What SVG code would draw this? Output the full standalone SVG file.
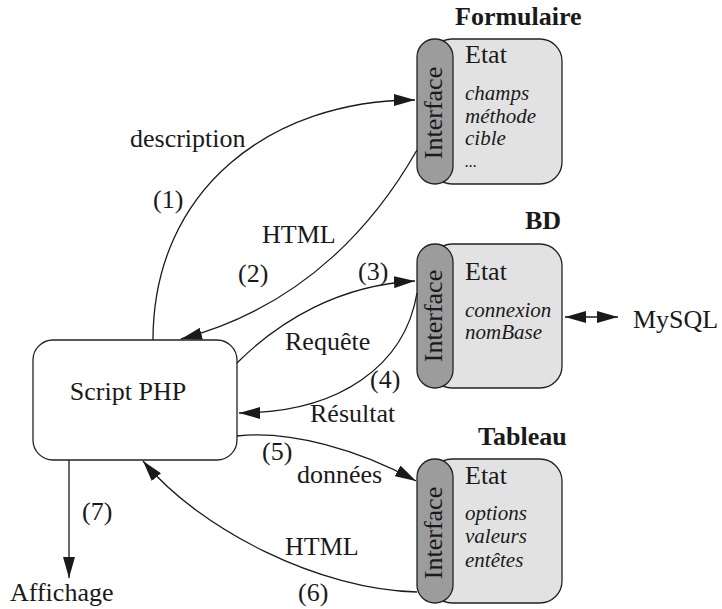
<svg xmlns="http://www.w3.org/2000/svg" width="722" height="609" viewBox="0 0 722 609">
<defs>
<marker id="ah" markerUnits="userSpaceOnUse" markerWidth="22" markerHeight="12" refX="21" refY="6" orient="auto">
<path d="M0,0 L21,6 L0,12 z" fill="#1a1a1a"/>
</marker>
<marker id="ahs" markerUnits="userSpaceOnUse" markerWidth="22" markerHeight="12" refX="21" refY="6" orient="auto-start-reverse">
<path d="M0,0 L21,6 L0,12 z" fill="#1a1a1a"/>
</marker>
<style>
text{font-family:"Liberation Serif","Times New Roman",serif;fill:#1a1a1a;font-size:26px}
.b{font-weight:bold}
.i{font-style:italic;font-size:21px}
.d{font-size:16px}
.st{fill:#e2e2e2;stroke:#222;stroke-width:1.3}
.pill{fill:#9c9c9c;stroke:#222;stroke-width:1.3}
.c{fill:none;stroke:#1a1a1a;stroke-width:1.3}
.m{text-anchor:middle}
</style>
</defs>
<rect width="722" height="609" fill="#ffffff"/>

<g id="script">
<rect x="33" y="340" width="204" height="120" rx="20" fill="#fff" stroke="#222" stroke-width="1.3"/>
<text x="128" y="400" class="m">Script PHP</text>
</g>

<g id="formulaire">
<text x="455" y="25" class="b">Formulaire</text>
<rect x="430" y="39" width="132" height="145" rx="22" class="st"/>
<rect x="417" y="39" width="36" height="145" rx="18" class="pill"/>
<text transform="translate(442,113) rotate(-90)" class="m">Interface</text>
<text x="465" y="63">Etat</text>
<text x="465" y="100" class="i">champs</text>
<text x="465" y="123" class="i">méthode</text>
<text x="465" y="145" class="i">cible</text>
<text x="465" y="167" class="i d">...</text>
</g>

<g id="bd">
<text x="525" y="229" class="b">BD</text>
<rect x="430" y="244" width="132" height="144" rx="22" class="st"/>
<rect x="417" y="244" width="36" height="144" rx="18" class="pill"/>
<text transform="translate(442,316) rotate(-90)" class="m">Interface</text>
<text x="465" y="280">Etat</text>
<text x="465" y="317" class="i">connexion</text>
<text x="465" y="339" class="i">nomBase</text>
</g>

<g id="tableau">
<text x="478" y="445" class="b">Tableau</text>
<rect x="430" y="459" width="132" height="144" rx="22" class="st"/>
<rect x="417" y="459" width="36" height="144" rx="18" class="pill"/>
<text transform="translate(442,533) rotate(-90)" class="m">Interface</text>
<text x="465" y="484">Etat</text>
<text x="465" y="520" class="i">options</text>
<text x="465" y="543" class="i">valeurs</text>
<text x="465" y="567" class="i">entêtes</text>
</g>

<g id="mysql">
<text x="633" y="328">MySQL</text>
</g>

<g id="affichage">
<text x="10" y="601">Affichage</text>
</g>

<g id="connectors">
<path class="c" d="M153,340 C153,190 270,100 415,100" marker-end="url(#ah)"/>
<path class="c" d="M417,150 C380,215 310,305 181,339" marker-end="url(#ah)"/>
<path class="c" d="M237,363 C280,320 340,285 415,281" marker-end="url(#ah)"/>
<path class="c" d="M417,293 C405,365 340,413 239,413" marker-end="url(#ah)"/>
<path class="c" d="M237,436 C290,430 360,450 416,481" marker-end="url(#ah)"/>
<path class="c" d="M417,592 C320,590 200,530 143,461" marker-end="url(#ah)"/>
<path class="c" d="M69,460 L69,578" marker-end="url(#ah)"/>
<path class="c" d="M565,317 L618,317" marker-start="url(#ahs)" marker-end="url(#ah)"/>
<text x="130" y="147">description</text>
<text x="153" y="208">(1)</text>
<text x="262" y="243">HTML</text>
<text x="238" y="282">(2)</text>
<text x="358" y="280">(3)</text>
<text x="285" y="350">Requête</text>
<text x="370" y="388">(4)</text>
<text x="310" y="422">Résultat</text>
<text x="262" y="460">(5)</text>
<text x="297" y="483">données</text>
<text x="82" y="520">(7)</text>
<text x="285" y="555">HTML</text>
<text x="298" y="601">(6)</text>
</g>
</svg>
